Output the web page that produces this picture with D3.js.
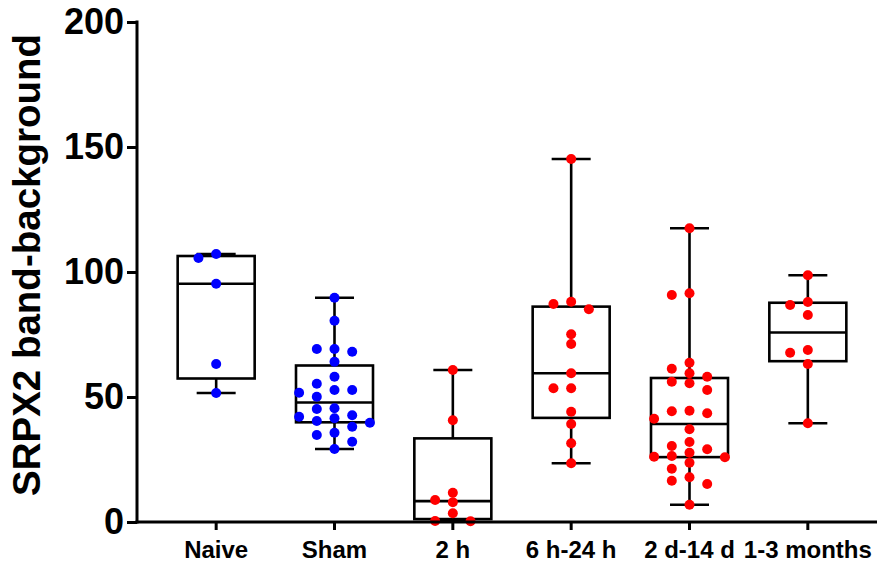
<!DOCTYPE html>
<html>
<head>
<meta charset="utf-8">
<script src="https://cdn.jsdelivr.net/npm/d3@7"></script>
<style>
  body { margin: 0; background: #fff; }
  text { font-family: "Liberation Sans", Arial, sans-serif; font-weight: bold; }
</style>
</head>
<body>
<div id="chart"></div>
<script>
// groups and their values
var categories = ["Naive", "Sham", "2 h", "6 h-24 h", "2 d-14 d", "1-3 months"];
var groupColors = ["#0000ff", "#0000ff", "#ff0000", "#ff0000", "#ff0000", "#ff0000"];

var naive = [107.2, 105.6, 95.3, 63.2, 51.6];
var sham = [89.7, 80.5, 69.2, 69.2, 68.1, 64.1, 58.1, 55.3, 52.8, 52.8, 51.7, 50.1,
  45.5, 45.2, 42.7, 42.1, 41.5, 40.4, 39.7, 38.1, 35.7, 34.8, 32.1, 29.2];
var twoH = [60.8, 40.7, 11.7, 8.8, 7.9, 3.5, 0.4, 0.3];
var sixTo24H = [145.2, 88.1, 87.2, 85.1, 75.1, 71.2, 59.5, 53.5, 53.5, 44.1, 39.2, 31.5, 23.5];
var twoTo14D = [117.5, 91.5, 90.8, 63.7, 61.3, 59.5, 58.1, 56.1, 55.5, 52.8, 44.5, 44.3,
  43.5, 41.3, 37.1, 32.0, 30.4, 29.1, 27.7, 26.4, 26.1, 25.9, 23.7, 21.3, 17.9, 16.5, 15.2, 6.9];
var oneTo3M = [98.7, 88.0, 86.8, 82.8, 68.8, 67.7, 63.2, 39.5];

var groupValues = [naive, sham, twoH, sixTo24H, twoTo14D, oneTo3M];

var yTicks = [0, 50, 100, 150, 200];

var width = 877, height = 568;
var axisLeftX = 137, plotTop = 22, plotBottom = 522;

var svg = d3.select("#chart").append("svg")
  .attr("width", width)
  .attr("height", height);

var x = d3.scaleBand()
  .domain(categories)
  .range([157, 867]);

var y = d3.scaleLinear()
  .domain([0, 200])
  .range([plotBottom, plotTop]);

// quartiles the (n+1)p way, like Prism does
function quartile(sorted, p) {
  var n = sorted.length;
  var pos = (n + 1) * p;
  if (pos <= 1) return sorted[0];
  if (pos >= n) return sorted[n - 1];
  var lo = Math.floor(pos);
  return sorted[lo - 1] + (pos - lo) * (sorted[lo] - sorted[lo - 1]);
}

var boxData = categories.map(function(c, i) {
  var s = groupValues[i].slice().sort(d3.ascending);
  return {
    key: c,
    min: s[0],
    q1: quartile(s, 0.25),
    med: quartile(s, 0.5),
    q3: quartile(s, 0.75),
    max: s[s.length - 1]
  };
});

var boxW = 77, capW = 39, dotR = 5, colStep = 17.7;

// boxes + whiskers
var boxes = svg.selectAll(".box")
  .data(boxData)
  .enter().append("g")
  .attr("class", "box")
  .attr("transform", function(d) {
    return "translate(" + (x(d.key) + x.bandwidth() / 2) + ",0)";
  })
  .attr("stroke", "#000")
  .attr("stroke-width", 2.6)
  .attr("fill", "none");

boxes.append("line")
  .attr("y1", function(d) { return y(d.max); })
  .attr("y2", function(d) { return y(d.q3); });
boxes.append("line")
  .attr("y1", function(d) { return y(d.q1); })
  .attr("y2", function(d) { return y(d.min); });
boxes.append("line")
  .attr("x1", -capW / 2).attr("x2", capW / 2)
  .attr("y1", function(d) { return y(d.max); })
  .attr("y2", function(d) { return y(d.max); });
boxes.append("line")
  .attr("x1", -capW / 2).attr("x2", capW / 2)
  .attr("y1", function(d) { return y(d.min); })
  .attr("y2", function(d) { return y(d.min); });
boxes.append("rect")
  .attr("x", -boxW / 2)
  .attr("width", boxW)
  .attr("y", function(d) { return y(d.q3); })
  .attr("height", function(d) { return y(d.q1) - y(d.q3); });
boxes.append("line")
  .attr("x1", -boxW / 2).attr("x2", boxW / 2)
  .attr("y1", function(d) { return y(d.med); })
  .attr("y2", function(d) { return y(d.med); });

// dodge the points sideways so they don't overlap
var dots = [];
groupValues.forEach(function(vals, gi) {
  var cx = x(categories[gi]) + x.bandwidth() / 2;
  var placed = [];
  vals.slice().sort(d3.descending).forEach(function(v) {
    var py = y(v);
    var order = [0, -1, 1, -2, 2, -3, 3];
    for (var k = 0; k < order.length; k++) {
      var col = order[k];
      var clash = placed.some(function(p) {
        return p.col == col && Math.abs(p.py - py) < 9.2;
      });
      if (!clash) {
        placed.push({ col: col, py: py });
        dots.push({ x: cx + col * colStep, y: py, color: groupColors[gi] });
        break;
      }
    }
  });
});

svg.selectAll(".dot")
  .data(dots)
  .enter().append("circle")
  .attr("class", "dot")
  .attr("cx", function(d) { return d.x; })
  .attr("cy", function(d) { return d.y; })
  .attr("r", dotR)
  .attr("fill", function(d) { return d.color; });

// axes
var yAxis = d3.axisLeft(y)
  .tickValues(yTicks)
  .tickSize(10)
  .tickSizeOuter(0)
  .tickPadding(3);

var gy = svg.append("g")
  .attr("transform", "translate(" + axisLeftX + ",0)")
  .call(yAxis);
gy.select(".domain").remove();
gy.append("line")
  .attr("y1", plotTop - 1.5).attr("y2", plotBottom + 1.5)
  .attr("stroke", "#000").attr("stroke-width", 3);
gy.selectAll(".tick line").attr("stroke-width", 3);
gy.selectAll(".tick text")
  .attr("font-size", 36)
  .attr("fill", "#000");

var xAxis = d3.axisBottom(x)
  .tickSize(8)
  .tickSizeOuter(0)
  .tickPadding(11);

var gx = svg.append("g")
  .attr("transform", "translate(0," + plotBottom + ")")
  .call(xAxis);
gx.select(".domain").remove();
gx.append("line")
  .attr("x1", axisLeftX - 1.5).attr("x2", width)
  .attr("stroke", "#000").attr("stroke-width", 3);
gx.selectAll(".tick line").attr("stroke-width", 3);
gx.selectAll(".tick text")
  .attr("font-size", 24)
  .attr("fill", "#000");

svg.append("text")
  .attr("transform", "translate(40," + 265 + ") rotate(-90)")
  .attr("text-anchor", "middle")
  .attr("font-size", 38.5)
  .text("SRPX2 band-background");
</script>
</body>
</html>
